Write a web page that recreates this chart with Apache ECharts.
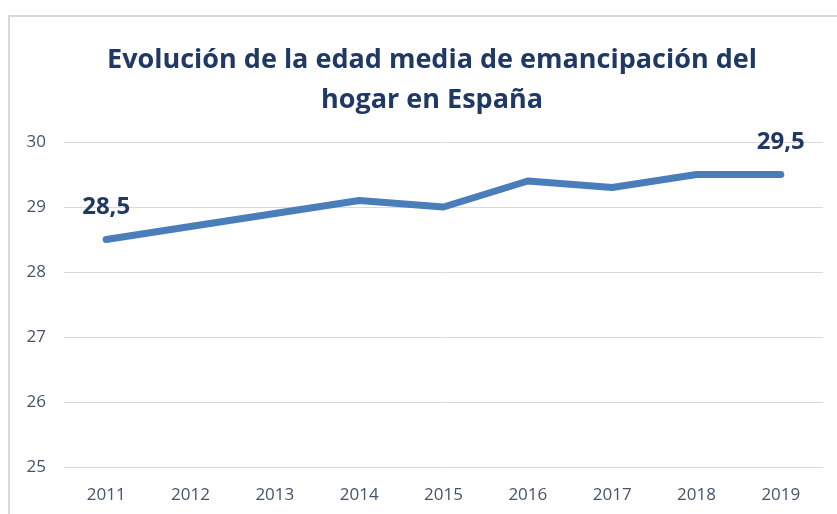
<!DOCTYPE html>
<html>
<head>
<meta charset="utf-8">
<script src="https://cdn.jsdelivr.net/npm/echarts@6/dist/echarts.min.js"></script>
<style>
  html, body { margin: 0; padding: 0; background: #fff; }
  #frame { position: absolute; left: 8px; top: 15px; width: 840px; height: 510px;
           border-left: 2px solid #d9d9d9; border-top: 2px solid #d9d9d9; }
  #chart { width: 837px; height: 514px; }
</style>
</head>
<body>
<div id="frame"></div>
<div id="chart"></div>
<script>
// datos
const years = ['2011', '2012', '2013', '2014', '2015', '2016', '2017', '2018', '2019'];
const edadMedia = [28.5, 28.7, 28.9, 29.1, 29.0, 29.4, 29.3, 29.5, 29.5];
const yTicks = [25, 26, 27, 28, 29, 30];
const titulo = 'Evolución de la edad media de emancipación del\nhogar en España';

const font = '"Open Sans", sans-serif';
const labelColor = '#44546A';

let myChart = echarts.init(document.getElementById('chart'));
myChart.setOption({
  animation: false,
  title: {
    text: titulo,
    left: 427,
    textAlign: 'center',
    top: 35,
    textStyle: {
      fontFamily: font,
      fontSize: 27,
      fontWeight: 'bold',
      color: '#203864',
      lineHeight: 40
    }
  },
  grid: { left: 64, right: 14, top: 142, bottom: 47, containLabel: false },
  xAxis: {
    type: 'category',
    boundaryGap: true,
    data: years,
    axisLine: { show: false },
    axisTick: { show: false },
    axisLabel: { color: labelColor, fontFamily: font, fontSize: 17, margin: 20 }
  },
  yAxis: {
    type: 'value',
    min: yTicks[0],
    max: yTicks[yTicks.length - 1],
    interval: 1,
    axisLine: { show: false },
    axisTick: { show: false },
    axisLabel: { color: labelColor, fontFamily: font, fontSize: 17, margin: 18 },
    splitLine: { lineStyle: { color: '#d9d9d9', width: 1 } }
  },
  series: [{
    type: 'line',
    data: edadMedia,
    symbol: 'circle',
    symbolSize: 2,
    showSymbol: true,
    itemStyle: { color: '#4A7EBB' },
    lineStyle: { color: '#4A7EBB', width: 7, cap: 'round', join: 'round' },
    label: {
      show: true,
      position: 'top',
      distance: 19,
      fontFamily: font,
      fontSize: 24,
      fontWeight: 'bold',
      color: '#203864',
      formatter: function (p) {
        if (p.dataIndex === 0 || p.dataIndex === years.length - 1) {
          return p.value.toFixed(1).replace('.', ',');
        }
        return '';
      }
    }
  }]
});
window.addEventListener('resize', function () { myChart.resize(); });
</script>
</body>
</html>
